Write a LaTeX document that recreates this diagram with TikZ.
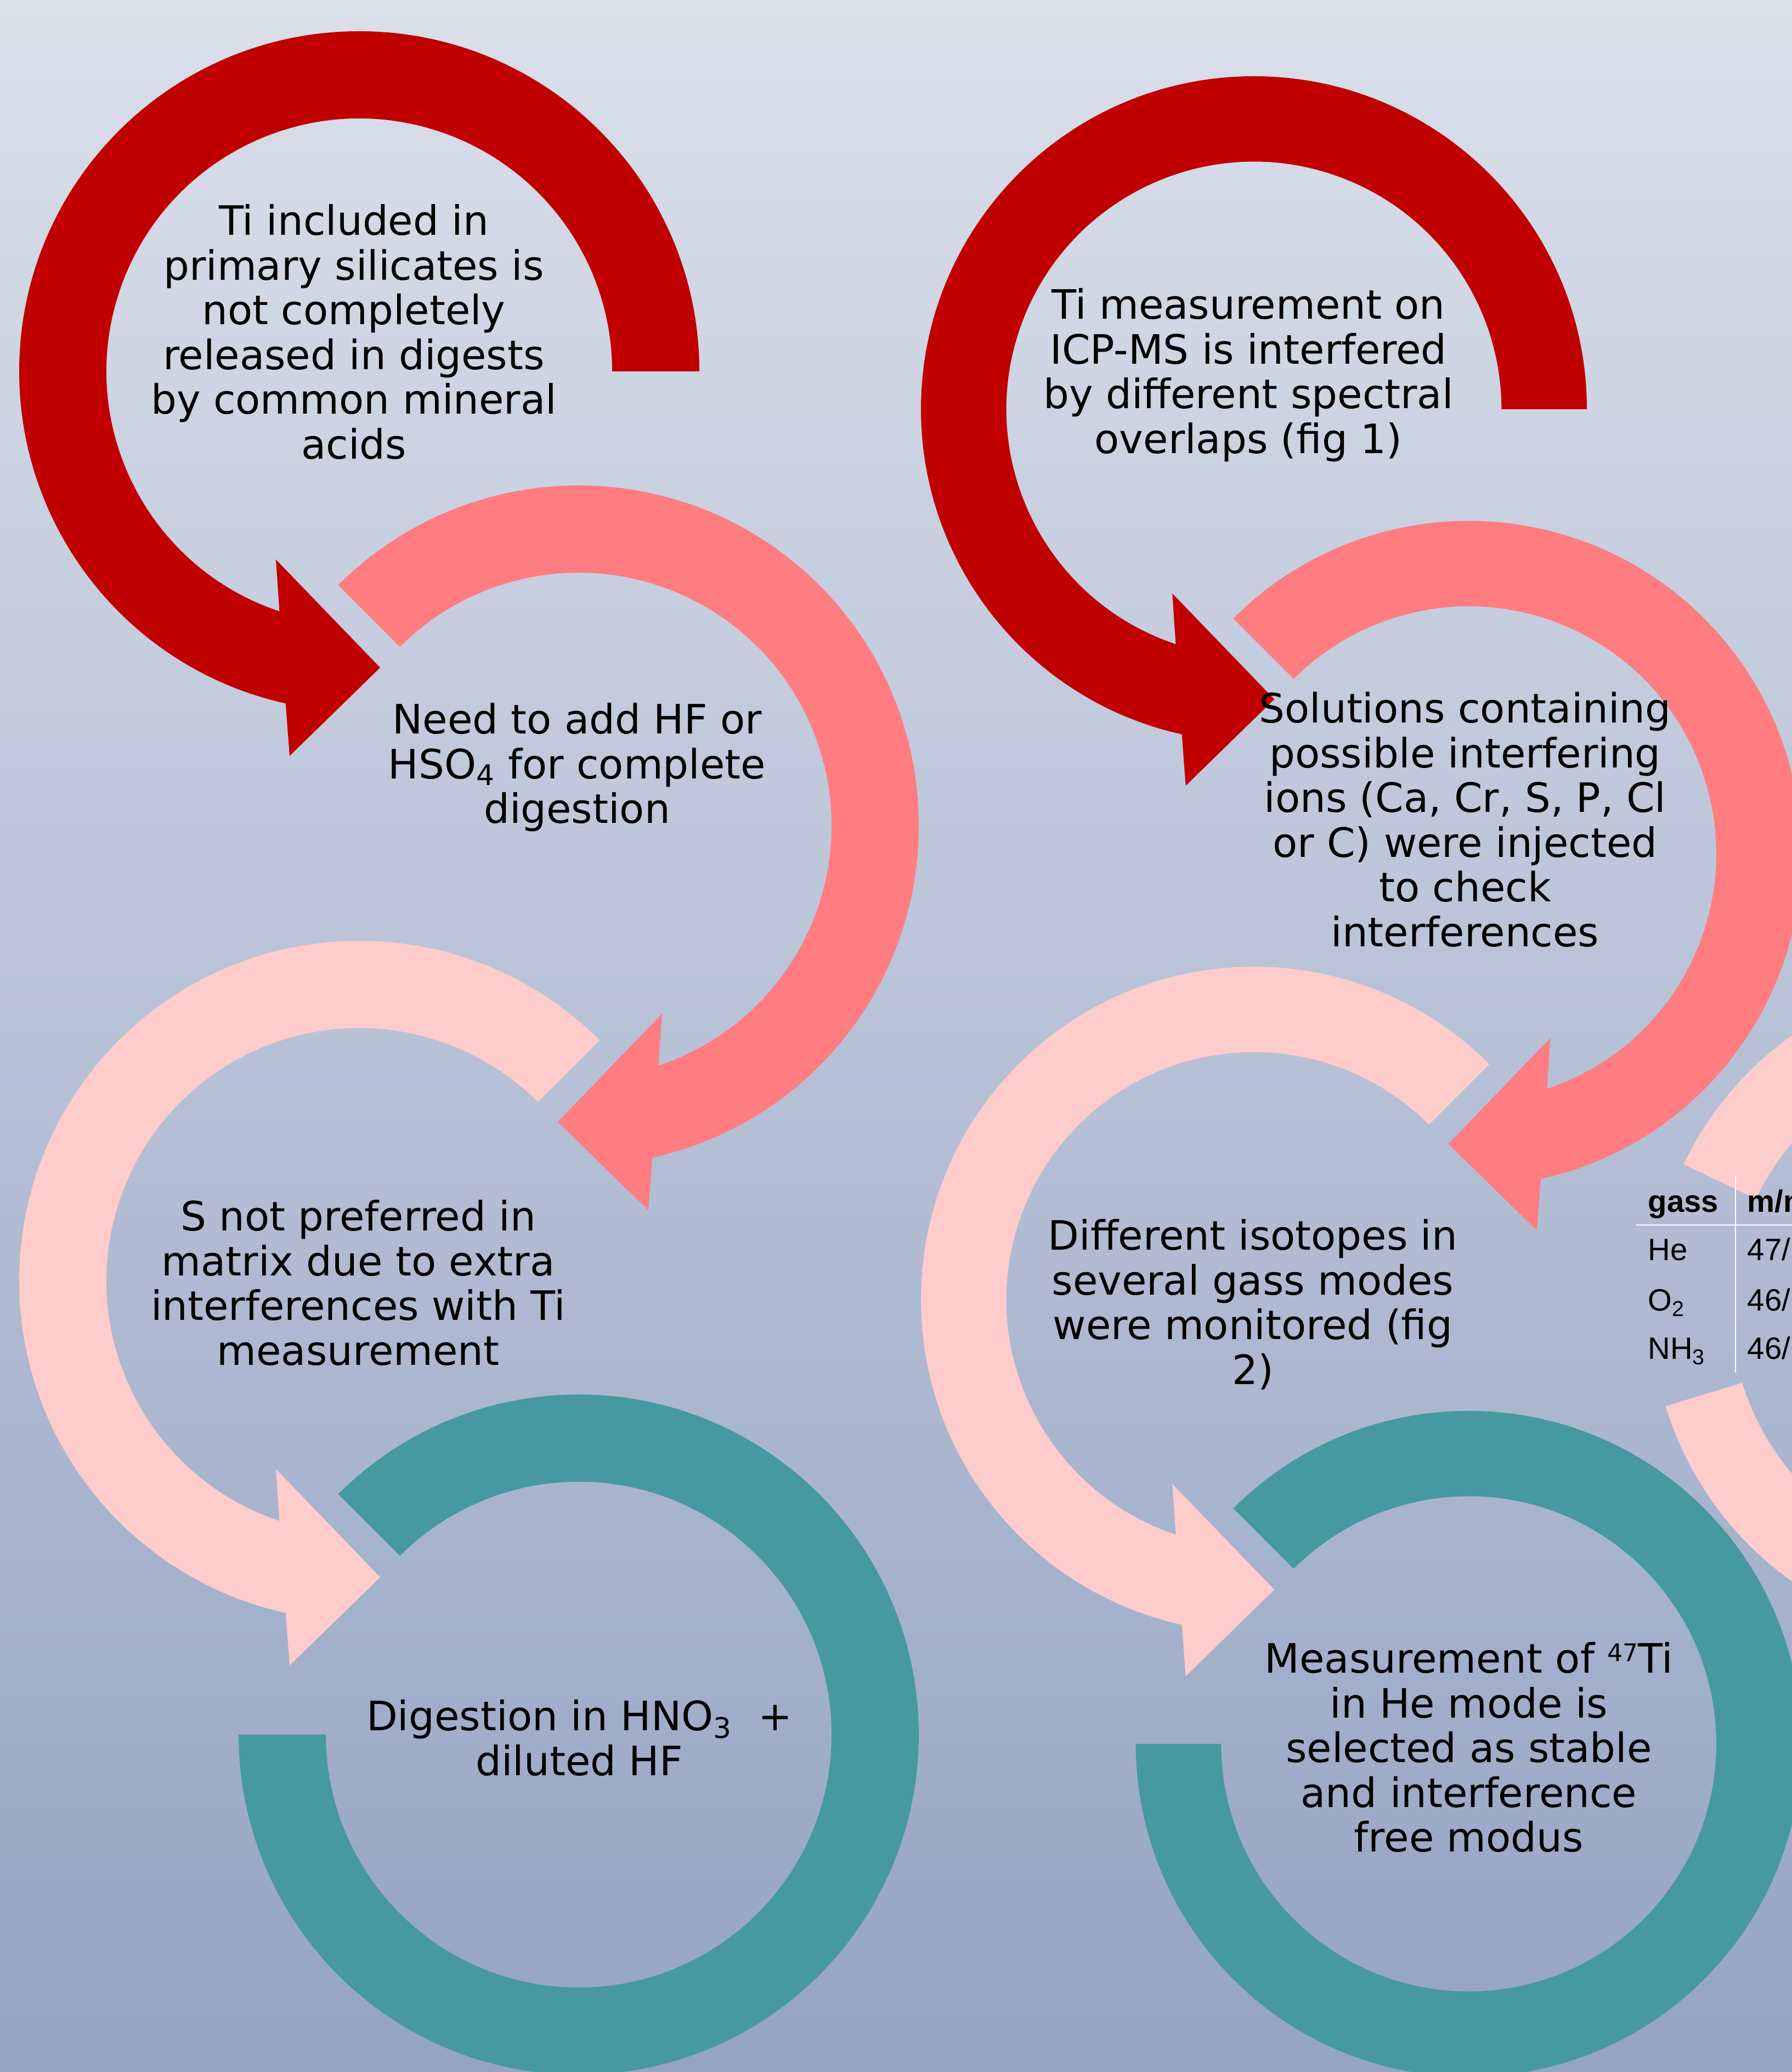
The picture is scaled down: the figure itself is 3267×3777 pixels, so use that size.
\documentclass[tikz,border=0pt]{standalone}
\usepackage{fontspec}
\setmainfont{DejaVu Sans}
\newfontfamily\tablefont{Liberation Sans}
\usepackage{xcolor}
\definecolor{bgtop}{HTML}{DADFEA}
\definecolor{bgbottom}{HTML}{95A4C3}
\definecolor{arrowred}{HTML}{C00000}
\definecolor{arrowsalmon}{HTML}{FF7C80}
\definecolor{arrowpink}{HTML}{FFCCCC}
\definecolor{arrowteal}{HTML}{4699A0}

\tikzset{
  looptext/.style={align=center, inner sep=0pt, anchor=north,
    font=\fontsize{21}{23.2}\selectfont},
  tabletext/.style={inner sep=0pt, anchor=base west,
    font=\tablefont\fontsize{16}{16}\selectfont}
}

\begin{document}
\begin{tikzpicture}[x=0.1mm, y=0.1mm]
		\useasboundingbox (0,0) rectangle (3267,3777);
		\clip (0,0) rectangle (3267,3777);

		% background gradient
		\shade[top color=bgtop, bottom color=bgbottom] (0,0) rectangle (3267,3777);

		% two columns of looping arrows, the right one a bit smaller
		\foreach \cx/\cy/\sc in {655/3100/1, 2286/3031/0.979} {
				\begin{scope}[shift={(\cx,\cy)}, scale=\sc]
					% red: from the right over the top, head at the bottom
					\fill[arrowred] (0:620) arc[start angle=0, end angle=257.5, radius=620]
					-- (-127,-701) -- (38,-540) -- (-152,-343) -- (251.6:461)
					arc[start angle=251.6, end angle=0, radius=461] -- cycle;

					% salmon: tail at the upper left, turning the other way
					\begin{scope}[shift={(400,-828)}]
						\fill[arrowsalmon] (135:620) arc[start angle=135, end angle=-77.5, radius=620]
						-- (127,-701) -- (-38,-540) -- (152,-343) -- (-71.6:461)
						arc[start angle=-71.6, end angle=135, radius=461] -- cycle;
					\end{scope}

					% pink: tail at the upper right
					\begin{scope}[shift={(0,-1658)}]
						\fill[arrowpink] (45:620) arc[start angle=45, end angle=257.5, radius=620]
						-- (-127,-701) -- (38,-540) -- (-152,-343) -- (251.6:461)
						arc[start angle=251.6, end angle=45, radius=461] -- cycle;
					\end{scope}

					% teal: open ring without head
					\begin{scope}[shift={(400,-2485)}]
						\fill[arrowteal] (135:620) arc[start angle=135, end angle=-180, radius=620]
						-- (180:461) arc[start angle=-180, end angle=135, radius=461] -- cycle;
					\end{scope}
				\end{scope}
			}

		% pink ring of a third column, cut by the right edge
		\begin{scope}[shift={(3620,1392)}]
			\fill[arrowpink] (197:610) arc[start angle=197, end angle=514.5, radius=610]
			-- (154.5:464) arc[start angle=514.5, end angle=197, radius=464] -- cycle;
		\end{scope}

		% texts inside the loops
		\node[looptext] (silicates) at (645,3405) {Ti included in\\primary silicates is\\not completely\\released in digests\\by common mineral\\acids};
		\node[looptext] (addhf) at (1052,2496) {Need to add HF or\\HSO\textsubscript{4} for complete\\digestion};
		\node[looptext] (sulfur) at (653,1590) {S not preferred in\\matrix due to extra\\interferences with Ti\\measurement};
		\node[looptext] (digestion) at (1056,679) {Digestion in HNO\textsubscript{3}\ \ +\\diluted HF};
		\node[looptext] (icpms) at (2276,3252) {Ti measurement on\\ICP-MS is interfered\\by different spectral\\overlaps (fig 1)};
		\node[looptext] (solutions) at (2671,2516) {Solutions containing\\possible interfering\\ions (Ca, Cr, S, P, Cl\\or C) were injected\\to check\\interferences};
		\node[looptext] (isotopes) at (2284,1555) {Different isotopes in\\several gass modes\\were monitored (fig\\2)};
		\node[looptext] (hemode) at (2678,784) {Measurement of \raisebox{0.29em}{\fontsize{12.6}{12.6}\selectfont 47}Ti\\in He mode is\\selected as stable\\and interference\\free modus};

		% small table of gas modes
		\draw[white, line width=0.6pt] (3164,1634) -- (3164,1275);
		\draw[white, line width=0.6pt] (2983,1544) -- (3267,1544);
		\node[tabletext, font=\tablefont\bfseries\fontsize{16}{16}\selectfont] (gass) at (3004,1567) {gass};
		\node[tabletext, font=\tablefont\bfseries\fontsize{16}{16}\selectfont] (mz) at (3185,1567) {m/m};
		\node[tabletext] (he) at (3004,1479) {He};
		\node[tabletext] (hemz) at (3185,1479) {47/};
		\node[tabletext] (oxygen) at (3004,1387) {O\textsubscript{2}};
		\node[tabletext] (oxygenmz) at (3185,1387) {46/};
		\node[tabletext] (ammonia) at (3004,1299) {NH\textsubscript{3}};
		\node[tabletext] (ammoniamz) at (3185,1299) {46/};
	\end{tikzpicture}
\end{document}
